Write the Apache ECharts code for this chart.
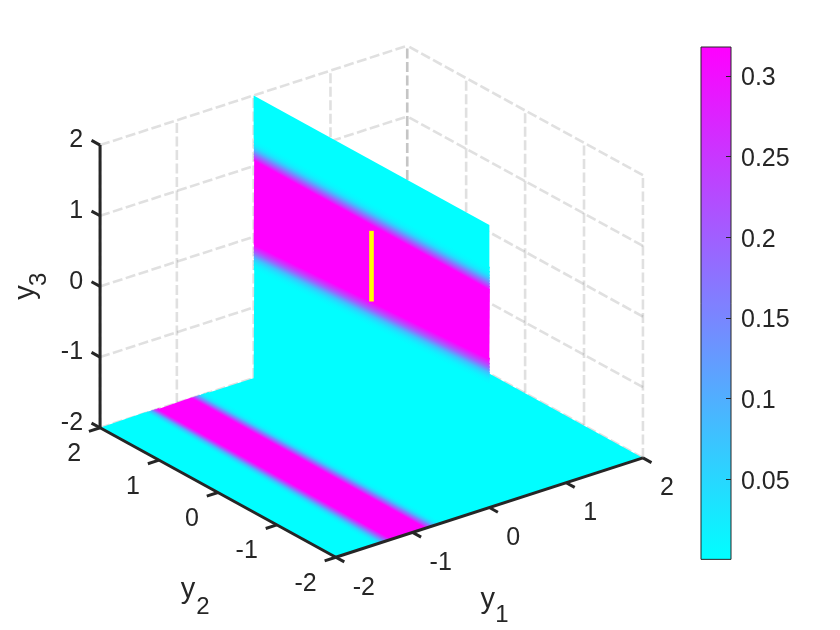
<!DOCTYPE html>
<html>
<head>
<meta charset="utf-8">
<style>html,body{margin:0;padding:0;background:#fff}#c{width:840px;height:630px}</style>
<script src="https://cdn.jsdelivr.net/npm/echarts@6/dist/echarts.min.js"></script>
</head>
<body>
<div id="c"></div>
<script>
// ---- values ----
const tickValues = [-2, -1, 0, 1, 2];
const colorbarTicks = [0.05, 0.1, 0.15, 0.2, 0.25, 0.3];
const colorMin = 0.0004;
const colorMax = 0.318;

// floor (y3 = -2): density across y1, read at the y2 = 2 edge and the y2 = -2 edge
const floorY1AtY2High = [-2, -1.42, -1.39, -1.37, -1.34, -1.32, -1.30, -1.28, -1.25, -0.81, -0.78, -0.76, -0.73, -0.71, -0.68, -0.65, -0.60, 2];
const floorY1AtY2Low  = [-2, -1.50, -1.46, -1.43, -1.40, -1.37, -1.34, -1.31, -1.27, -0.83, -0.80, -0.77, -0.74, -0.71, -0.68, -0.65, -0.60, 2];
const floorDensity    = [0.002, 0.002, 0.012, 0.035, 0.075, 0.13, 0.19, 0.25, 0.318, 0.318, 0.25, 0.19, 0.13, 0.075, 0.035, 0.012, 0.002, 0.002];

// slice (y1 = 0): density across y3, read at the y2 = 2 edge and the y2 = -2 edge
const sliceY3AtY2High = [-2, -0.47, -0.41, -0.36, -0.31, -0.27, -0.23, -0.18, -0.11, 1.08, 1.12, 1.16, 1.20, 1.24, 1.28, 1.33, 1.39, 2];
const sliceY3AtY2Low  = [-2, -0.26, -0.20, -0.15, -0.10, -0.06, -0.02, 0.03, 0.10, 1.08, 1.12, 1.16, 1.20, 1.24, 1.28, 1.33, 1.39, 2];
const sliceDensity    = [0.002, 0.002, 0.012, 0.035, 0.075, 0.13, 0.19, 0.25, 0.318, 0.318, 0.25, 0.19, 0.13, 0.075, 0.035, 0.012, 0.002, 0.002];

// yellow segment: y1, y2, y3 at both ends
const segmentStart = [0, 0, 0];
const segmentEnd = [0, 0, 1];

// ---- view(-37.5, 30) projection ----
const AZ = 37.5 * Math.PI / 180, EL = 30 * Math.PI / 180;
function project(y1, y2, y3) {
  return [
    Math.cos(AZ) * y1 - Math.sin(AZ) * y2,
    Math.sin(AZ) * Math.sin(EL) * y1 + Math.cos(AZ) * Math.sin(EL) * y2 + Math.cos(EL) * y3
  ];
}
function coolColor(v) {
  const t = Math.max(0, Math.min(1, (v - colorMin) / (colorMax - colorMin)));
  return 'rgb(' + Math.round(255 * t) + ',' + Math.round(255 * (1 - t)) + ',255)';
}
const INK = '#262626';
const FONT = '"Liberation Sans", Arial, sans-serif';

const chart = echarts.init(document.getElementById('c'), null, { renderer: 'canvas' });
const pt = (api, a) => api.coord(project(a[0], a[1], a[2]));

// ---- rows built from the arrays ----
const LO = tickValues[0], HI = tickValues[tickValues.length - 1];
const gridRows = [];
tickValues.forEach(t => {
  gridRows.push([t, HI, LO, t, HI, HI]);   // wall y2 = 2, verticals
  gridRows.push([HI, t, LO, HI, t, HI]);   // wall y1 = 2, verticals
  gridRows.push([LO, HI, t, HI, HI, t]);   // wall y2 = 2, horizontals
  gridRows.push([HI, LO, t, HI, HI, t]);   // wall y1 = 2, horizontals
});
const axisRows = [
  [LO, HI, LO, LO, HI, HI],
  [LO, HI, LO, LO, LO, LO],
  [LO, LO, LO, HI, LO, LO]
];
const TICK = 0.145;
tickValues.forEach(t => {
  axisRows.push([LO, HI, t, LO, HI + TICK, t]);          // y3 ticks
  axisRows.push([LO, t, LO, LO - TICK, t, LO]);          // y2 ticks
  axisRows.push([t, LO, LO, t, LO - TICK, LO]);          // y1 ticks
});
const labelRows = [];
tickValues.forEach(t => {
  labelRows.push([LO, HI, t, String(t), 'right', -17, -4.5]);
  labelRows.push([LO, t, LO, String(t), 'right', -19, 26.5]);
  labelRows.push([t, LO, LO, String(t), 'left', 17, 30.5]);
});

// One band of a surface. The polygon runs a little past its far edge, and the next
// band is painted over that overlap, so no seam shows between neighbours.
function strip(api, a0, a1, b0, b1, va, vb, overlap) {
  const p = [pt(api, a0), pt(api, a1), pt(api, b1), pt(api, b0)];
  const ma = [(p[0][0] + p[1][0]) / 2, (p[0][1] + p[1][1]) / 2];
  const mb = [(p[2][0] + p[3][0]) / 2, (p[2][1] + p[3][1]) / 2];
  const dx = p[1][0] - p[0][0], dy = p[1][1] - p[0][1], L = Math.hypot(dx, dy);
  const nx = -dy / L, ny = dx / L;
  const d = (mb[0] - ma[0]) * nx + (mb[1] - ma[1]) * ny;
  const grad = new echarts.graphic.LinearGradient(ma[0], ma[1], ma[0] + nx * d, ma[1] + ny * d,
    [{ offset: 0, color: coolColor(va) }, { offset: 1, color: coolColor(vb) }], true);
  if (overlap) {
    const s = Math.sign(d) * 1.2;
    p[2] = [p[2][0] + nx * s, p[2][1] + ny * s];
    p[3] = [p[3][0] + nx * s, p[3][1] + ny * s];
  }
  return { type: 'polygon', shape: { points: p }, style: { fill: grad } };
}

function floorRender(params, api) {
  const i = params.dataIndex;
  return strip(api,
    [floorY1AtY2High[i], HI, LO], [floorY1AtY2Low[i], LO, LO],
    [floorY1AtY2High[i + 1], HI, LO], [floorY1AtY2Low[i + 1], LO, LO],
    floorDensity[i], floorDensity[i + 1], i < floorDensity.length - 2);
}
function sliceRender(params, api) {
  const i = params.dataIndex;
  return strip(api,
    [0, HI, sliceY3AtY2High[i]], [0, LO, sliceY3AtY2Low[i]],
    [0, HI, sliceY3AtY2High[i + 1]], [0, LO, sliceY3AtY2Low[i + 1]],
    sliceDensity[i], sliceDensity[i + 1], i < sliceDensity.length - 2);
}
function lineRender(styleFn) {
  return function (params, api) {
    const r = [0, 1, 2, 3, 4, 5].map(k => api.value(k));
    const a = pt(api, r.slice(0, 3)), b = pt(api, r.slice(3, 6));
    return { type: 'line', shape: { x1: a[0], y1: a[1], x2: b[0], y2: b[1] }, style: styleFn() };
  };
}
function labelRender(params, api) {
  const row = labelRows[params.dataIndex];
  const p = pt(api, row);
  return {
    type: 'text', x: p[0] + row[5], y: p[1] + row[6],
    style: { text: row[3], fill: INK, font: '25px ' + FONT, align: row[4], verticalAlign: 'middle' }
  };
}
function titleText(text, x, y, size, rot) {
  return {
    type: 'text', x, y, rotation: rot || 0,
    style: { text, fill: INK, font: size + 'px ' + FONT, align: 'center', verticalAlign: 'middle' }
  };
}
function titleRender(params, api) {
  const g1 = pt(api, [0, LO, LO]), g2 = pt(api, [LO, 0, LO]), g3 = pt(api, [LO, HI, 0]);
  return {
    type: 'group', children: [
      titleText('y', g1[0] - 1.5, g1[1] + 92, 29),
      titleText('1', g1[0] + 12.5, g1[1] + 108, 24),
      titleText('y', g2[0] - 30, g2[1] + 98, 29),
      titleText('2', g2[0] - 15, g2[1] + 115, 24),
      titleText('y', g3[0] - 74, g3[1] + 6, 29, Math.PI / 2),
      titleText('3', g3[0] - 61, g3[1] - 7, 24, Math.PI / 2)
    ]
  };
}
function colorbarRender(params, api) {
  const a = api.coord([0, colorMin]), b = api.coord([0, colorMax]);
  const w = api.size([1, 0])[0];
  const x = a[0] - w / 2;
  const stops = [];
  for (let i = 0; i <= 64; i++) {
    const v = colorMin + (colorMax - colorMin) * i / 64;
    stops.push({ offset: i / 64, color: coolColor(v) });
  }
  return {
    type: 'rect', shape: { x, y: b[1], width: w, height: a[1] - b[1] },
    style: {
      fill: new echarts.graphic.LinearGradient(0, 1, 0, 0, stops),
      stroke: INK, lineWidth: 1
    }
  };
}

const layer = (renderItem, data, z) => ({
  type: 'custom', coordinateSystem: 'cartesian2d', xAxisIndex: 0, yAxisIndex: 0,
  renderItem, data, z, clip: false, silent: true, animation: false
});

chart.setOption({
  animation: false,
  backgroundColor: '#ffffff',
  grid: [
    { left: 0, top: 0, width: 840, height: 630 },
    { left: 701, top: 47, width: 30, height: 513 }
  ],
  xAxis: [
    { type: 'value', gridIndex: 0, min: -3.838, max: 4.84, show: false },
    { type: 'category', gridIndex: 1, data: ['density'], show: false, boundaryGap: true }
  ],
  yAxis: [
    { type: 'value', gridIndex: 0, min: -4.026, max: 3.695, show: false },
    {
      type: 'value', gridIndex: 1, position: 'right', min: 0, max: colorMax, interval: 0.05, z: 6,
      axisLine: { show: false },
      axisTick: { show: true, inside: true, length: 5, lineStyle: { color: INK, width: 1 } },
      splitLine: { show: false },
      axisLabel: {
        show: true, margin: 10, color: INK, fontSize: 25, fontFamily: FONT,
        showMinLabel: false, showMaxLabel: false,
        rich: { s: { color: INK, fontSize: 25, fontFamily: FONT, padding: [5, 0, 0, 0] } },
        formatter: v => colorbarTicks.some(t => Math.abs(t - v) < 1e-6) ? '{s|' + (+v.toFixed(2)) + '}' : ''
      }
    }
  ],
  series: [
    layer(lineRender(() => ({ stroke: 'rgba(38,38,38,0.14)', lineWidth: 2.6, lineDash: [10, 3.5] })), gridRows, 1),
    layer(floorRender, floorDensity.slice(0, -1).map((v, i) => [floorY1AtY2High[i], v]), 2),
    layer(sliceRender, sliceDensity.slice(0, -1).map((v, i) => [sliceY3AtY2High[i], v]), 3),
    layer(lineRender(() => ({ stroke: '#ffff00', lineWidth: 4.6 })), [segmentStart.concat(segmentEnd)], 4),
    layer(lineRender(() => ({ stroke: INK, lineWidth: 3 })), axisRows, 5),
    layer(labelRender, labelRows.map(r => [r[0], r[1]]), 6),
    layer(titleRender, [[0, 0]], 6),
    {
      type: 'custom', coordinateSystem: 'cartesian2d', xAxisIndex: 1, yAxisIndex: 1,
      renderItem: colorbarRender, data: [['density', colorMax]], z: 2, silent: true, animation: false, clip: false
    }
  ]
});
</script>
</body>
</html>
